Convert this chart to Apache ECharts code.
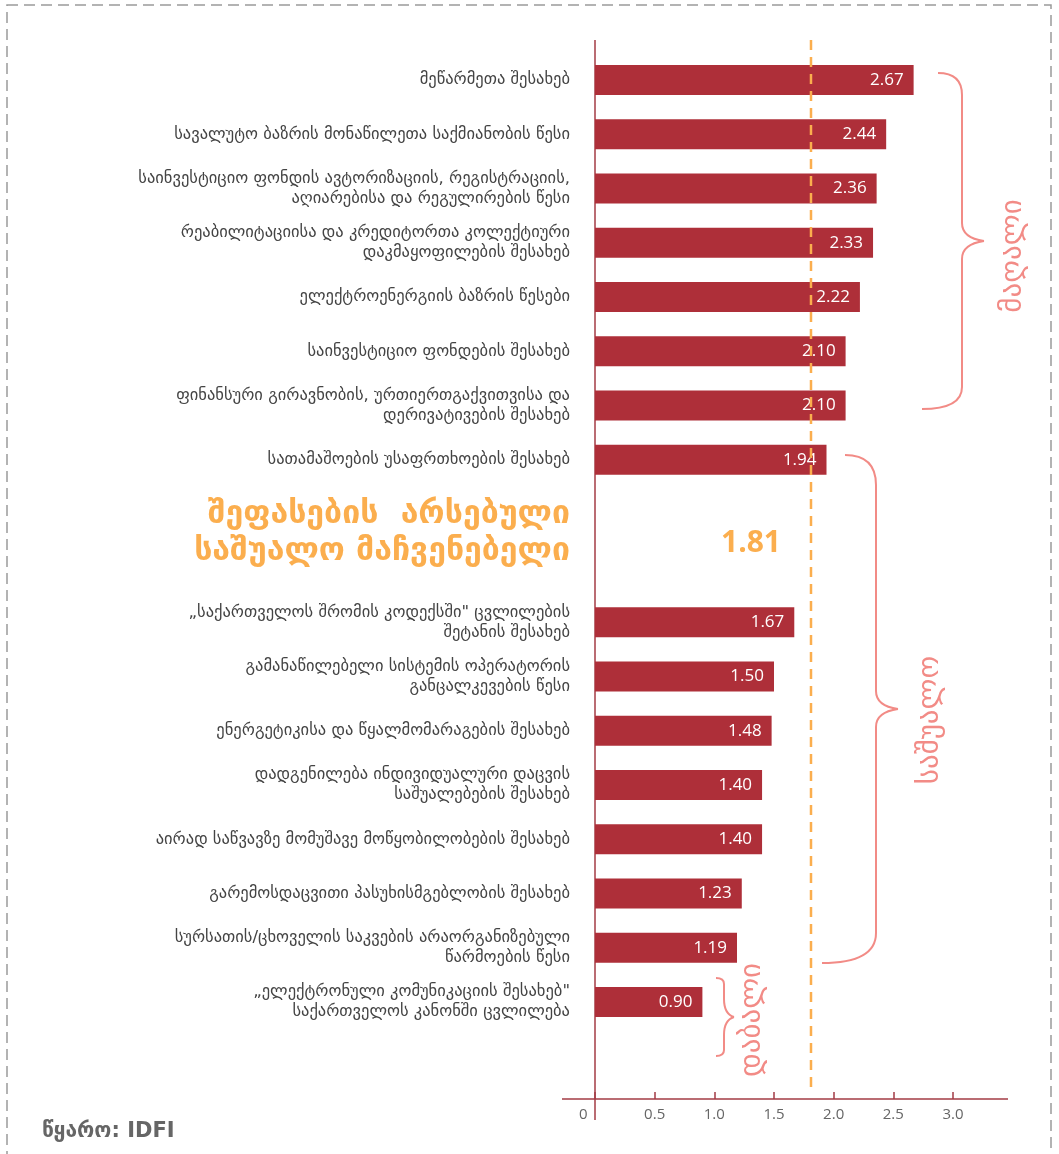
<!DOCTYPE html>
<html>
<head>
<meta charset="utf-8">
<script src="https://cdn.jsdelivr.net/npm/echarts@6/dist/echarts.min.js"></script>
<style>
  html, body { margin: 0; padding: 0; background: #ffffff; }
  #main { width: 1059px; height: 1154px; }
</style>
</head>
<body>
<div id="main"></div>
<script>
// 数据
const highLabels = [
  'მეწარმეთა შესახებ',
  'სავალუტო ბაზრის მონაწილეთა საქმიანობის წესი',
  'საინვესტიციო ფონდის ავტორიზაციის, რეგისტრაციის,\nაღიარებისა და რეგულირების წესი',
  'რეაბილიტაციისა და კრედიტორთა კოლექტიური\nდაკმაყოფილების შესახებ',
  'ელექტროენერგიის ბაზრის წესები',
  'საინვესტიციო ფონდების შესახებ',
  'ფინანსური გირავნობის, ურთიერთგაქვითვისა და\nდერივატივების შესახებ',
  'სათამაშოების უსაფრთხოების შესახებ'
]
const highValues = [2.67, 2.44, 2.36, 2.33, 2.22, 2.10, 2.10, 1.94]
const lowLabels = [
  '„საქართველოს შრომის კოდექსში" ცვლილების\nშეტანის შესახებ',
  'გამანაწილებელი სისტემის ოპერატორის\nგანცალკევების წესი',
  'ენერგეტიკისა და წყალმომარაგების შესახებ',
  'დადგენილება ინდივიდუალური დაცვის\nსაშუალებების შესახებ',
  'აირად საწვავზე მომუშავე მოწყობილობების შესახებ',
  'გარემოსდაცვითი პასუხისმგებლობის შესახებ',
  'სურსათის/ცხოველის საკვების არაორგანიზებული\nწარმოების წესი',
  '„ელექტრონული კომუნიკაციის შესახებ"\nსაქართველოს კანონში ცვლილება'
]
const lowValues = [1.67, 1.50, 1.48, 1.40, 1.40, 1.23, 1.19, 0.90]
const averageValue = 1.81
const averageTitle = ['შეფასების  არსებული', 'საშუალო მაჩვენებელი']
const groupNames = ['მაღალი', 'საშუალო', 'დაბალი']
const sourceText = 'წყარო: IDFI'

// 中间空两行放平均值说明
const categories = [...highLabels, ' ', '  ', ...lowLabels]
const values = [...highValues, '-', '-', ...lowValues]

const barColor = '#ae2f39'
const axisColor = '#a33b45'
const orange = '#fbae4e'
const pink = '#f28b86'

const chart = echarts.init(document.getElementById('main'), null, { renderer: 'canvas' })

const getOptions = () => ({
  backgroundColor: '#ffffff',
  animation: false,
  grid: {
    left: 595,
    right: 106,
    top: 53,
    height: 976
  },
  xAxis: {
    type: 'value',
    min: 0,
    max: 3,
    interval: 0.5,
    offset: 70,
    axisLine: { show: false },
    axisTick: {
      show: true,
      inside: true,
      length: 7,
      lineStyle: { color: axisColor, width: 1.5 }
    },
    axisLabel: {
      color: '#666',
      fontSize: 15,
      fontFamily: 'Open Sans',
      margin: 8,
      formatter: v => v === 0 ? '0      ' : v.toFixed(1)
    },
    splitLine: { show: false }
  },
  yAxis: {
    type: 'category',
    inverse: true,
    data: categories,
    axisLine: { show: false },
    axisTick: { show: false },
    axisLabel: {
      color: '#444',
      fontSize: 16.5,
      lineHeight: 20,
      fontFamily: 'DejaVu Sans',
      margin: 25,
      align: 'right'
    }
  },
  series: [{
    type: 'bar',
    data: values,
    barWidth: 30,
    itemStyle: { color: barColor },
    label: {
      show: true,
      position: 'insideRight',
      distance: 10,
      color: '#ffffff',
      fontSize: 17,
      fontFamily: 'Open Sans',
      formatter: p => Number(p.value).toFixed(2)
    }
  }]
})

chart.setOption(getOptions())

// 花括号：由几段曲线和直线拼起来
const braceStyle = { fill: 'none', stroke: pink, lineWidth: 2 }
const brace = (x0, y0, x1, y1, xv, tip, r) => {
  const ym = (y0 + y1) / 2
  const k = Math.min(18, (y1 - y0) / 4)
  const curve = (ax, ay, cx, cy, bx, by) => ({
    type: 'bezierCurve',
    shape: { x1: ax, y1: ay, x2: bx, y2: by, cpx1: cx, cpy1: cy },
    style: braceStyle
  })
  const line = (ax, ay, bx, by) => ({
    type: 'line',
    shape: { x1: ax, y1: ay, x2: bx, y2: by },
    style: braceStyle
  })
  return {
    type: 'group',
    children: [
      curve(x0, y0, xv, y0, xv, y0 + r),
      line(xv, y0 + r, xv, ym - k),
      curve(xv, ym - k, xv, ym - 3, tip, ym),
      curve(tip, ym, xv, ym + 3, xv, ym + k),
      line(xv, ym + k, xv, y1 - r),
      curve(xv, y1 - r, xv, y1, x1, y1)
    ]
  }
}

const avgX = chart.convertToPixel({ xAxisIndex: 0 }, averageValue)
const zeroX = chart.convertToPixel({ xAxisIndex: 0 }, 0)

chart.setOption({
  graphic: [
    // 虚线边框
    {
      type: 'rect',
      shape: { x: 7, y: 5, width: 1044, height: 1175 },
      style: { fill: 'none', stroke: '#9a9a9a', lineWidth: 1.5, lineDash: [11, 6] },
      silent: true
    },
    // 坐标轴线
    {
      type: 'line',
      shape: { x1: zeroX, y1: 40, x2: zeroX, y2: 1120 },
      style: { stroke: axisColor, lineWidth: 1.5 }
    },
    {
      type: 'line',
      shape: { x1: 562, y1: 1099, x2: 1008, y2: 1099 },
      style: { stroke: axisColor, lineWidth: 1.5 }
    },
    // 平均值虚线
    {
      type: 'line',
      shape: { x1: avgX, y1: 40, x2: avgX, y2: 1088 },
      style: { stroke: orange, lineWidth: 2.5, lineDash: [10, 7] },
      z: 10
    },
    {
      type: 'text',
      x: avgX - 30,
      y: 543,
      style: {
        text: averageValue.toFixed(2),
        fill: orange,
        font: 'bold 30px "Open Sans"',
        textAlign: 'right',
        textVerticalAlign: 'middle'
      }
    },
    {
      type: 'text',
      x: 570,
      y: 533,
      style: {
        text: averageTitle.join('\n'),
        fill: orange,
        font: 'bold 32px "DejaVu Sans"',
        lineHeight: 37,
        textAlign: 'right',
        textVerticalAlign: 'middle'
      }
    },
    // 分组花括号
    brace(938, 73, 922, 409, 962, 984, 22),
    brace(845, 455, 822, 963, 876, 898, 30),
    brace(716, 978, 716, 1056, 724, 734, 6),
    {
      type: 'text',
      x: 1013,
      y: 256,
      rotation: Math.PI / 2,
      style: { text: groupNames[0], fill: pink, font: '29px "DejaVu Sans"', textAlign: 'center', textVerticalAlign: 'middle' }
    },
    {
      type: 'text',
      x: 930,
      y: 720,
      rotation: Math.PI / 2,
      style: { text: groupNames[1], fill: pink, font: '29px "DejaVu Sans"', textAlign: 'center', textVerticalAlign: 'middle' }
    },
    {
      type: 'text',
      x: 752,
      y: 1020,
      rotation: Math.PI / 2,
      style: { text: groupNames[2], fill: pink, font: '29px "DejaVu Sans"', textAlign: 'center', textVerticalAlign: 'middle' }
    },
    // 来源
    {
      type: 'text',
      x: 42,
      y: 1132,
      style: { text: sourceText, fill: '#666', font: 'bold 21px "DejaVu Sans"', textVerticalAlign: 'middle' }
    }
  ]
})
</script>
</body>
</html>
